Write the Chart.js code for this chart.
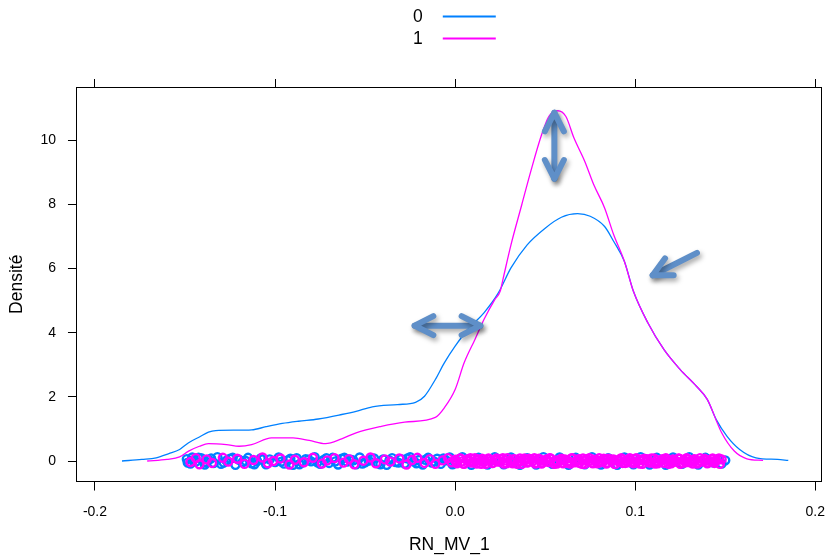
<!DOCTYPE html>
<html lang="fr">
<head>
    <meta charset="UTF-8">
    <meta name="viewport" content="width=device-width, initial-scale=1.0">
    <title>Densité RN_MV_1</title>
    <style>
        html, body {
            margin: 0;
            padding: 0;
            background-color: #fff;
        }
        #densityChart {
            display: block;
        }
    </style>
</head>
<body>
    <canvas id="densityChart" width="828" height="560"></canvas>

    <script src="https://cdn.jsdelivr.net/npm/chart.js"></script>

    <script>
        // Groups and their colours
        const groupLabels = ['0', '1'];
        const groupColors = ['#0080ff', '#ff00ff'];

        // Axis ticks
        const xTicks = [-0.2, -0.1, 0.0, 0.1, 0.2];
        const yTicks = [0, 2, 4, 6, 8, 10];

        // Kernel density, group 0
        const dens0X = [-0.185, -0.174, -0.166, -0.159, -0.153, -0.148, -0.142, -0.137, -0.133, -0.122,
                        -0.113, -0.105, -0.096, -0.087, -0.076, -0.063, -0.055, -0.046, -0.032, -0.022,
                        -0.017, -0.011, -0.006, 0.000, 0.007, 0.016, 0.024, 0.031, 0.040, 0.050,
                        0.059, 0.068, 0.075, 0.083, 0.088, 0.094, 0.099, 0.107, 0.116, 0.125,
                        0.134, 0.140, 0.145, 0.151, 0.158, 0.167, 0.179, 0.185];
        const dens0Y = [0.00, 0.05, 0.10, 0.23, 0.36, 0.57, 0.75, 0.90, 0.95, 0.96,
                        0.97, 1.07, 1.17, 1.24, 1.31, 1.45, 1.55, 1.69, 1.76, 1.83,
                        2.02, 2.54, 3.06, 3.58, 4.10, 4.62, 5.24, 6.02, 6.74, 7.26,
                        7.60, 7.71, 7.63, 7.31, 6.85, 6.22, 5.29, 4.31, 3.47, 2.85,
                        2.33, 1.92, 1.29, 0.77, 0.36, 0.10, 0.05, 0.02];

        // Kernel density, group 1
        const dens1X = [-0.171, -0.160, -0.153, -0.148, -0.142, -0.137, -0.127, -0.120, -0.113, -0.102,
                        -0.090, -0.081, -0.072, -0.063, -0.055, -0.041, -0.028, -0.011, -0.006, 0.000,
                        0.005, 0.011, 0.016, 0.022, 0.025, 0.0265, 0.031, 0.037, 0.042, 0.048,
                        0.052, 0.057, 0.0615, 0.066, 0.072, 0.077, 0.083, 0.088, 0.094, 0.099,
                        0.107, 0.116, 0.125, 0.134, 0.140, 0.148, 0.155, 0.162, 0.171];
        const dens1Y = [0.00, 0.05, 0.13, 0.31, 0.46, 0.54, 0.51, 0.46, 0.51, 0.72,
                        0.72, 0.64, 0.54, 0.69, 0.88, 1.08, 1.21, 1.36, 1.66, 2.23,
                        3.06, 3.79, 4.41, 5.03, 5.29, 5.65, 6.74, 7.99, 9.03, 10.17,
                        10.74, 10.92, 10.74, 10.07, 9.34, 8.61, 7.89, 7.06, 6.22, 5.29,
                        4.31, 3.47, 2.85, 2.33, 1.92, 0.88, 0.31, 0.07, 0.02];

        // Rug of observations: [RN_MV_1, vertical jitter]
        const rug0 = [
            [-0.149, 0.06], [-0.147, -0.08], [-0.146, 0.11], [-0.144, -0.02], [-0.141, 0.09], [-0.139, -0.11],
            [-0.137, 0.03], [-0.134, -0.06], [-0.132, 0.12], [-0.130, -0.09], [-0.127, 0.01], [-0.125, 0.07],
            [-0.122, -0.12], [-0.120, 0.04], [-0.118, -0.04], [-0.115, 0.10], [-0.113, -0.07], [-0.110, 0.00],
            [-0.108, 0.08], [-0.105, -0.10], [-0.103, 0.05], [-0.100, -0.03], [-0.098, 0.11], [-0.095, -0.08],
            [-0.093, 0.02], [-0.090, -0.12], [-0.088, 0.09], [-0.085, -0.05], [-0.083, 0.06], [-0.080, -0.01],
            [-0.078, 0.12], [-0.075, -0.09], [-0.073, 0.03], [-0.070, -0.06], [-0.068, 0.10], [-0.065, -0.11],
            [-0.063, 0.07], [-0.060, -0.02], [-0.058, 0.04], [-0.055, -0.10], [-0.053, 0.11], [-0.050, -0.04],
            [-0.048, 0.01], [-0.045, 0.08], [-0.043, -0.07], [-0.040, 0.05], [-0.038, -0.12], [-0.035, 0.09],
            [-0.033, -0.03], [-0.030, 0.06], [-0.028, -0.08], [-0.025, 0.12], [-0.023, -0.01], [-0.020, 0.03],
            [-0.018, -0.11], [-0.015, 0.10], [-0.013, -0.05], [-0.010, 0.07], [-0.008, -0.09], [-0.005, 0.02],
            [-0.003, 0.11], [0.000, -0.06], [0.004, 0.12], [0.009, -0.12], [0.013, 0.10], [0.018, -0.11],
            [0.022, 0.12], [0.027, -0.10], [0.031, 0.11], [0.036, -0.12], [0.040, 0.09], [0.045, -0.11],
            [0.049, 0.12], [0.054, -0.09], [0.058, 0.11], [0.063, -0.12], [0.067, 0.10], [0.072, -0.10],
            [0.076, 0.12], [0.081, -0.11], [0.085, 0.09], [0.090, -0.12], [0.094, 0.11], [0.099, -0.10],
            [0.103, 0.12], [0.108, -0.11], [0.112, 0.10], [0.117, -0.12], [0.121, 0.11], [0.126, -0.09],
            [0.130, 0.12], [0.135, -0.11], [0.139, 0.10], [0.143, -0.04], [0.146, 0.06], [0.148, -0.08],
            [0.150, 0.02],
            [-0.1485, -0.05], [-0.1455, 0.02], [-0.1425, 0.10], [-0.1385, -0.03], [-0.1355, 0.08], [-0.1285, -0.05],
            [-0.1235, 0.10], [-0.1165, 0.01], [-0.1115, -0.10], [-0.1065, 0.06], [-0.0965, -0.02], [-0.0915, 0.07],
            [-0.0865, -0.10], [-0.0815, 0.04], [-0.0765, -0.04], [-0.0715, 0.09], [-0.0665, -0.01], [-0.0615, 0.10],
            [-0.0565, 0.02], [-0.0515, -0.08], [-0.0465, 0.06], [-0.0415, -0.10], [-0.0365, 0.02], [-0.0315, -0.05],
            [-0.0265, 0.08], [-0.0215, -0.07], [-0.0165, 0.04], [-0.0115, -0.02], [-0.0065, 0.08], [-0.0015, -0.10]
        ];
        const rug1 = [
            [-0.147, -0.03], [-0.144, 0.09], [-0.142, -0.10], [-0.138, 0.05], [-0.135, -0.06], [-0.129, 0.10],
            [-0.126, -0.02], [-0.121, 0.07], [-0.117, -0.09], [-0.112, 0.03], [-0.107, 0.11], [-0.104, -0.07],
            [-0.101, 0.00], [-0.097, 0.08], [-0.092, -0.11], [-0.089, 0.04], [-0.084, -0.04], [-0.079, 0.10],
            [-0.074, -0.08], [-0.071, 0.02], [-0.067, 0.09], [-0.062, -0.05], [-0.059, 0.06], [-0.056, -0.10],
            [-0.051, 0.01], [-0.047, 0.11], [-0.044, -0.07], [-0.039, 0.05], [-0.036, -0.02], [-0.031, 0.08],
            [-0.027, -0.11], [-0.024, 0.03], [-0.021, 0.10], [-0.017, -0.06], [-0.014, 0.06], [-0.011, -0.09],
            [-0.007, 0.02], [-0.004, 0.09], [-0.002, -0.04],
            [0.000, 0.04], [0.001, -0.07], [0.003, 0.08], [0.004, -0.01], [0.005, -0.09], [0.007, 0.06],
            [0.008, 0.00], [0.009, -0.05], [0.011, 0.09], [0.012, -0.08], [0.013, 0.03], [0.015, 0.07],
            [0.016, -0.03], [0.017, -0.09], [0.019, 0.05], [0.020, 0.01], [0.021, -0.06], [0.023, 0.08],
            [0.024, -0.02], [0.025, 0.06], [0.027, -0.08], [0.028, 0.02], [0.029, 0.09], [0.031, -0.04],
            [0.032, -0.07], [0.033, 0.05], [0.035, 0.00], [0.036, 0.08], [0.037, -0.09], [0.039, 0.03],
            [0.040, -0.05], [0.041, 0.07], [0.043, -0.01], [0.044, 0.09], [0.045, -0.06], [0.047, 0.04],
            [0.048, -0.08], [0.049, 0.01], [0.051, 0.06], [0.052, -0.03], [0.053, 0.08], [0.055, -0.09],
            [0.056, 0.02], [0.057, -0.04], [0.059, 0.07], [0.060, -0.07], [0.061, 0.05], [0.063, 0.00],
            [0.064, -0.08], [0.065, 0.09], [0.067, -0.02], [0.068, 0.03], [0.069, -0.06], [0.071, 0.08],
            [0.072, -0.09], [0.073, 0.06], [0.075, 0.01], [0.076, -0.05], [0.077, 0.04], [0.079, -0.07],
            [0.080, 0.09], [0.081, -0.03], [0.083, 0.02], [0.084, -0.08], [0.085, 0.07], [0.087, -0.01],
            [0.088, 0.05], [0.089, -0.09], [0.091, 0.03], [0.092, 0.08], [0.093, -0.06], [0.095, 0.00],
            [0.096, -0.04], [0.097, 0.09], [0.099, -0.07], [0.100, 0.06], [0.101, -0.02], [0.103, 0.04],
            [0.104, -0.09], [0.105, 0.07], [0.107, 0.01], [0.108, -0.05], [0.109, 0.08], [0.111, -0.08],
            [0.112, 0.02], [0.113, -0.03], [0.115, 0.06], [0.116, -0.06], [0.117, 0.09], [0.119, 0.00],
            [0.120, -0.07], [0.121, 0.05], [0.123, -0.01], [0.124, 0.08], [0.125, -0.09], [0.127, 0.03],
            [0.128, -0.04], [0.129, 0.07], [0.131, 0.02], [0.132, -0.08], [0.133, 0.06], [0.135, -0.05],
            [0.136, 0.09], [0.137, -0.02], [0.139, 0.04], [0.140, -0.07], [0.141, 0.01], [0.143, 0.08],
            [0.144, -0.06], [0.145, 0.03], [0.147, -0.09], [0.148, 0.05],
            [0.0005, -0.02], [0.0025, 0.07], [0.0045, -0.08], [0.0065, 0.03], [0.0085, 0.09], [0.0105, -0.04],
            [0.0125, 0.05], [0.0145, -0.09], [0.0165, 0.01], [0.0185, 0.08], [0.0205, -0.06], [0.0225, 0.04],
            [0.0245, -0.01], [0.0265, 0.09], [0.0285, -0.07], [0.0305, 0.02], [0.0325, 0.06], [0.0345, -0.09],
            [0.0365, 0.00], [0.0385, 0.08], [0.0405, -0.03], [0.0425, 0.05], [0.0445, -0.08], [0.0465, 0.07],
            [0.0485, -0.05], [0.0505, 0.03], [0.0525, 0.09], [0.0545, -0.02], [0.0565, -0.08], [0.0585, 0.04],
            [0.0605, 0.01], [0.0625, -0.06], [0.0645, 0.08], [0.0665, -0.04], [0.0685, 0.06], [0.0705, -0.09],
            [0.0725, 0.02], [0.0745, 0.09], [0.0765, -0.07], [0.0785, 0.03], [0.0805, -0.01], [0.0825, 0.07],
            [0.0845, -0.05], [0.0865, 0.05], [0.0885, -0.09], [0.0905, 0.00], [0.0925, 0.08], [0.0945, -0.06],
            [0.0965, 0.04], [0.0985, -0.03], [0.1005, 0.09], [0.1025, -0.08], [0.1045, 0.02], [0.1065, 0.06],
            [0.1085, -0.04], [0.1105, 0.08], [0.1125, -0.07], [0.1145, 0.01], [0.1165, 0.05], [0.1185, -0.09],
            [0.1205, 0.03], [0.1225, -0.02], [0.1245, 0.07], [0.1265, -0.06], [0.1285, 0.09], [0.1305, -0.04],
            [0.1325, 0.04], [0.1345, -0.08], [0.1365, 0.00], [0.1385, 0.07], [0.1405, -0.05], [0.1425, 0.06],
            [0.1445, -0.02], [0.1465, 0.08]
        ];

        // Annotation arrows: [x from, y from, x to, y to, two heads]
        const arrows = [
            [0.0551, 8.80, 0.0551, 10.86, true],
            [-0.0225, 4.22, 0.0140, 4.22, true],
            [0.1343, 6.49, 0.1097, 5.79, false]
        ];

        const fontFamily = '"Liberation Sans", Arial, Helvetica, sans-serif';
        const arrowColor = '#5f8fc8';

        function toPoints(xs, ys) {
            return xs.map((x, i) => ({ x: x, y: ys[i] }));
        }

        function rugPoints(rug) {
            return rug.map(p => ({ x: p[0], y: p[1] }));
        }

        // Open chevron arrow head at (x, y) pointing along angle
        function drawHead(ctx, x, y, angle) {
            const len = 21, spread = 0.47;
            ctx.beginPath();
            ctx.moveTo(x - len * Math.cos(angle - spread), y - len * Math.sin(angle - spread));
            ctx.lineTo(x, y);
            ctx.lineTo(x - len * Math.cos(angle + spread), y - len * Math.sin(angle + spread));
            ctx.stroke();
        }

        // Panel right edge, key at the top and the arrows
        const latticeDecor = {
            id: 'latticeDecor',
            afterDraw(chart) {
                const ctx = chart.ctx;
                const a = chart.chartArea;
                const sx = chart.scales.x, sy = chart.scales.y;

                ctx.save();
                ctx.strokeStyle = '#000';
                ctx.lineWidth = 1;
                ctx.beginPath();
                ctx.moveTo(Math.round(a.right) - 0.5, a.top);
                ctx.lineTo(Math.round(a.right) - 0.5, a.bottom);
                ctx.stroke();

                // key
                const cx = (a.left + a.right) / 2;
                ctx.font = '17.5px ' + fontFamily;
                ctx.textAlign = 'center';
                ctx.textBaseline = 'middle';
                groupLabels.forEach((lab, i) => {
                    const y = 17 + i * 22;
                    ctx.fillStyle = '#000';
                    ctx.fillText(lab, cx - 31.5, y);
                    ctx.strokeStyle = groupColors[i];
                    ctx.lineWidth = 2;
                    ctx.beginPath();
                    ctx.moveTo(cx - 6.5, y - 0.5);
                    ctx.lineTo(cx + 46.5, y - 0.5);
                    ctx.stroke();
                });

                // arrows
                ctx.strokeStyle = arrowColor;
                ctx.lineWidth = 6;
                ctx.lineCap = 'round';
                ctx.lineJoin = 'round';
                ctx.shadowColor = 'rgba(0, 0, 0, 0.35)';
                ctx.shadowBlur = 5;
                ctx.shadowOffsetX = 2;
                ctx.shadowOffsetY = 3;
                arrows.forEach(ar => {
                    const x1 = sx.getPixelForValue(ar[0]), y1 = sy.getPixelForValue(ar[1]);
                    const x2 = sx.getPixelForValue(ar[2]), y2 = sy.getPixelForValue(ar[3]);
                    const ang = Math.atan2(y2 - y1, x2 - x1);
                    ctx.beginPath();
                    ctx.moveTo(x1, y1);
                    ctx.lineTo(x2, y2);
                    ctx.stroke();
                    drawHead(ctx, x2, y2, ang);
                    if (ar[4]) drawHead(ctx, x1, y1, ang + Math.PI);
                });
                ctx.restore();
            }
        };

        // rug rings
        const rugStyle = {
            type: 'bubble',
            backgroundColor: 'rgba(0,0,0,0)',
            pointStyle: 'circle',
            radius: 4,
            borderWidth: 2.4
        };
        const curveStyle = {
            type: 'scatter',
            showLine: true,
            borderWidth: 1.3,
            pointRadius: 0,
            cubicInterpolationMode: 'monotone'
        };

        window.onload = function() {
            Chart.defaults.font.family = fontFamily;
            Chart.defaults.color = '#000';

            const ctx = document.getElementById('densityChart').getContext('2d');
            new Chart(ctx, {
                type: 'scatter',
                data: {
                    datasets: [
                        Object.assign({
                            label: groupLabels[1],
                            data: rugPoints(rug1),
                            borderColor: groupColors[1],
                            order: 0
                        }, rugStyle),
                        Object.assign({
                            label: groupLabels[1],
                            data: toPoints(dens1X, dens1Y),
                            borderColor: groupColors[1],
                            order: 1
                        }, curveStyle),
                        Object.assign({
                            label: groupLabels[0],
                            data: rugPoints(rug0),
                            borderColor: groupColors[0],
                            order: 2
                        }, rugStyle),
                        Object.assign({
                            label: groupLabels[0],
                            data: toPoints(dens0X, dens0Y),
                            borderColor: groupColors[0],
                            order: 3
                        }, curveStyle)
                    ]
                },
                options: {
                    responsive: false,
                    animation: false,
                    devicePixelRatio: 1,
                    layout: {
                        padding: { top: 79, right: 2, bottom: 0, left: 0 }
                    },
                    plugins: {
                        legend: { display: false },
                        tooltip: { enabled: false }
                    },
                    scales: {
                        x: {
                            type: 'linear',
                            position: 'bottom',
                            min: -0.21,
                            max: 0.2035,
                            afterBuildTicks: s => { s.ticks = xTicks.map(v => ({ value: v })); },
                            ticks: {
                                font: { size: 14, lineHeight: 3.14 },
                                padding: 0,
                                maxRotation: 0,
                                autoSkip: false,
                                callback: v => v.toFixed(1)
                            },
                            grid: { drawOnChartArea: false, tickLength: 9, color: '#000' },
                            border: { display: true, color: '#000' },
                            title: {
                                display: true,
                                text: 'RN_MV_1',
                                font: { size: 17.5 },
                                padding: { top: 0, bottom: 4.5 }
                            }
                        },
                        x2: {
                            type: 'linear',
                            position: 'top',
                            min: -0.21,
                            max: 0.2035,
                            afterBuildTicks: s => { s.ticks = xTicks.map(v => ({ value: v })); },
                            ticks: { display: false },
                            grid: { drawOnChartArea: false, tickLength: 8, color: '#000' },
                            border: { display: true, color: '#000' }
                        },
                        y: {
                            type: 'linear',
                            position: 'left',
                            min: -0.64,
                            max: 11.66,
                            afterBuildTicks: s => { s.ticks = yTicks.map(v => ({ value: v })); },
                            ticks: {
                                font: { size: 14 },
                                padding: 12,
                                callback: v => String(v)
                            },
                            grid: { drawOnChartArea: false, tickLength: 9, color: '#000' },
                            border: { display: true, color: '#000' },
                            title: {
                                display: true,
                                text: 'Densité',
                                font: { size: 17.5 },
                                padding: { top: 7, bottom: 0.4 }
                            }
                        }
                    }
                },
                plugins: [latticeDecor]
            });
        };
    </script>
</body>
</html>
